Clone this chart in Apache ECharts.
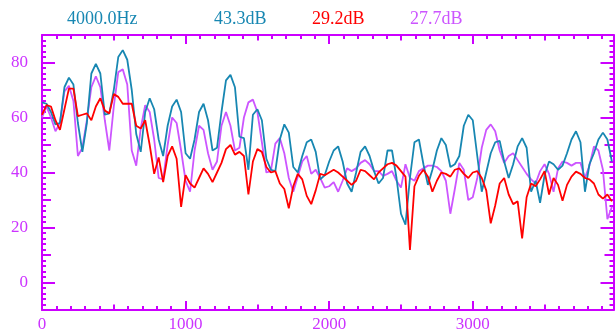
<!DOCTYPE html>
<html>
<head>
<meta charset="utf-8">
<script src="https://cdn.jsdelivr.net/npm/echarts@6/dist/echarts.min.js"></script>
<style>
  html, body { margin: 0; padding: 0; background: #fff; }
  #chart { width: 615px; height: 334px; }
</style>
</head>
<body>
<div id="chart"></div>
<script>
// frequency step between bins (Hz)
const binHz = 31.25
const xMax = 3980

const blueDb = [65.5, 65, 62, 57.5, 58, 71, 74.5, 72, 58, 47.5, 58, 76, 79.5, 76, 61, 61.5, 70, 82, 84.5, 81,
  70, 54, 47.5, 62, 67, 63, 52, 46, 57, 64, 66.5, 62, 47, 45, 52, 62, 65, 59, 48, 49,
  62, 73.5, 75.5, 71, 53, 52.5, 41, 61, 63, 59, 45, 41, 40.5, 52, 57.5, 54.5, 42, 40, 46, 51,
  52, 47.5, 37.5, 39, 44, 48, 49.5, 44, 36, 33, 40, 47.5, 49.5, 46, 40.5, 36, 38, 48, 48, 38,
  25, 21, 38, 51, 52, 43, 35.5, 41, 48, 52.5, 50, 42, 43, 46, 57, 61, 59, 46, 33, 40,
  47, 51, 51.5, 44, 38, 43, 49.5, 52.5, 49, 33, 37, 29, 39, 44, 43, 41, 42.5, 47, 52, 55,
  51, 33, 43, 47, 52, 54.5, 52, 44]

const redDb = [61, 64.5, 64, 59, 55.5, 63, 70.5, 70.5, 60.5, 61, 61.5, 59, 64, 67, 62.5, 61.5, 68.5, 67.5, 65, 65,
  65, 57, 56, 59, 50, 39.5, 45.5, 36.5, 46, 49.5, 45, 27.5, 39, 36, 34.5, 38, 41.5, 39.5, 36.5, 40,
  43.5, 48.5, 50, 46.5, 47.5, 46, 32, 44, 48.5, 47.5, 42, 40, 40.5, 36, 34, 27, 35, 39.5, 37.5, 31.5,
  28.5, 33.5, 39.5, 39, 40, 41, 40, 38.5, 37, 35.5, 37, 41, 40.5, 39, 37.5, 40, 41.5, 43, 43.5, 42.5,
  40.5, 38.5, 11.8, 35, 38.8, 41, 38.5, 33, 37, 40, 39.5, 38.5, 41, 41.5, 39.5, 38, 40, 40.5, 38, 33.5,
  21.5, 28, 36, 38, 32, 28.5, 29.5, 16, 31, 36, 35, 37.5, 40.5, 32, 38, 35.5, 29.7, 35.5, 38.5, 40.3,
  39.5, 38, 37.5, 36, 32, 30.5, 32, 29.5]

const violetDb = [60, 64, 60, 55, 58, 69.5, 71.5, 66, 46, 49, 59, 71, 75, 71, 59, 48, 64, 76.5, 77.5, 72,
  48, 42.5, 56, 64.5, 62, 52, 38, 37.5, 50, 60, 58, 48, 37, 33, 48, 57, 55.5, 47, 41, 44,
  57, 62, 57, 48, 49, 60, 65.5, 66.5, 62, 51, 40, 40.5, 50.5, 52.5, 47, 38, 33, 38.5, 44, 46,
  39.5, 41, 38, 34.5, 35, 36.5, 33, 37, 41.5, 40.5, 41.5, 43.5, 44.5, 43, 40.5, 40.5, 38.8, 39.5, 40.5, 37,
  34.5, 43, 38, 37, 40.5, 41.5, 42.5, 42.5, 42, 40.5, 37, 25, 34, 43.5, 41, 30, 31, 38, 49, 55.5,
  57.5, 55, 48, 43.5, 46, 47, 44.5, 42, 39.5, 37.5, 36, 40.5, 43, 39.5, 33, 41.5, 44, 43.5, 42.5, 43.5,
  43.5, 38, 42.5, 49.5, 48, 41, 23, 27.5]

const headerTexts = ['4000.0Hz', '43.3dB', '29.2dB', '27.7dB']

const xMajor = [0, 1000, 2000, 3000]
const xMid = [500, 1500, 2500, 3500]
const xMinor = []
for (let v = 100; v < xMax; v += 100) xMinor.push(v)
const yMajor = [0, 20, 40, 60, 80]
const yMid = [-10, 10, 30, 50, 70, 90]
const yMinor = []
for (let v = -8; v < 90; v += 2) yMinor.push(v)

const BLUE = '#1787b2'
const RED = '#ff0000'
const VIOLET = '#cc55ff'
const AXIS = '#cc00ff'
const LABEL = '#cc33ff'
const serif = "'Liberation Serif', 'DejaVu Serif', serif"

const pts = vals => vals.map((v, i) => [i * binHz, v])

function xAx(position, ticks, len, opts = {}) {
  return {
    type: 'value', position, min: 0, max: xMax,
    axisLine: { show: !!opts.line, onZero: false, lineStyle: { color: AXIS, width: 2 } },
    axisTick: { show: true, inside: true, length: len, customValues: ticks, lineStyle: { color: AXIS, width: 2 } },
    axisLabel: opts.labels
      ? { show: true, customValues: ticks, color: LABEL, fontFamily: serif, fontSize: 17, margin: 6, formatter: v => String(v) }
      : { show: false },
    splitLine: { show: false },
  }
}

function yAx(position, ticks, len, opts = {}) {
  return {
    type: 'value', position, min: -10, max: 90,
    axisLine: { show: !!opts.line, onZero: false, lineStyle: { color: AXIS, width: 2 } },
    axisTick: { show: true, inside: true, length: len, customValues: ticks, lineStyle: { color: AXIS, width: 2 } },
    axisLabel: opts.labels
      ? { show: true, customValues: ticks, color: LABEL, fontFamily: serif, fontSize: 17, margin: 14, formatter: v => String(v) }
      : { show: false },
    splitLine: { show: false },
  }
}

const headerX = [67, 214, 312, 410]
const headerColors = [BLUE, BLUE, RED, VIOLET]

const chart = echarts.init(document.getElementById('chart'), null, { renderer: 'canvas' })
chart.setOption({
  animation: false,
  grid: { left: 42, right: 1.5, top: 35, bottom: 24, containLabel: false },
  xAxis: [
    xAx('bottom', xMajor, 9, { line: true, labels: true }),
    xAx('bottom', xMid, 5.5),
    xAx('bottom', xMinor, 4),
    xAx('top', xMajor, 9, { line: true }),
    xAx('top', xMid, 5.5),
    xAx('top', xMinor, 4),
  ],
  yAxis: [
    yAx('left', yMajor, 13, { line: true, labels: true }),
    yAx('left', yMid, 9),
    yAx('left', yMinor, 4),
    yAx('right', yMajor, 13, { line: true }),
    yAx('right', yMid, 9),
    yAx('right', yMinor, 4),
  ],
  graphic: headerTexts.map((t, i) => ({
    type: 'text', left: headerX[i], top: 10,
    style: { text: t, fill: headerColors[i], font: `18px ${serif}` },
  })),
  series: [
    { name: 'blue', type: 'line', data: pts(blueDb), showSymbol: false, lineStyle: { color: BLUE, width: 1.8 }, z: 3 },
    { name: 'violet', type: 'line', data: pts(violetDb), showSymbol: false, lineStyle: { color: VIOLET, width: 1.8 }, z: 2 },
    { name: 'red', type: 'line', data: pts(redDb), showSymbol: false, lineStyle: { color: RED, width: 1.8 }, z: 4 },
  ],
})
</script>
</body>
</html>
